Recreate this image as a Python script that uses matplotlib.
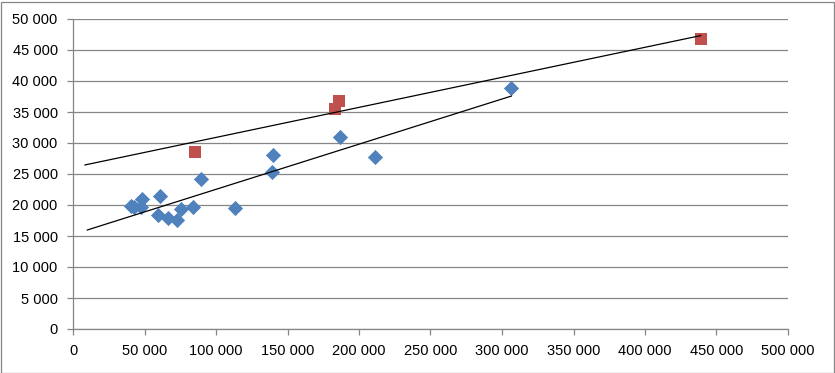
import matplotlib.pyplot as plt
import numpy as np
from matplotlib.ticker import FuncFormatter, MultipleLocator
from matplotlib.patches import Rectangle

# blue series (diamonds)
blue_x = [40300, 42700, 48000, 47700, 59200, 60900, 66700, 72900, 75800, 84100,
          89700, 113400, 139200, 139900, 186700, 211400, 306500]
blue_y = [19900, 19600, 20900, 19600, 18400, 21450, 17900, 17600, 19400, 19700,
          24200, 19500, 25400, 28100, 31000, 27700, 38800]

# red series (squares)
red_x = [85300, 183200, 185800, 439000]
red_y = [28600, 35500, 36700, 46700]

# trendlines start (backward forecast)
blue_trend_start = 10000
red_trend_start = 8400

plt.rcParams['font.family'] = ['Liberation Sans', 'DejaVu Sans']

fig = plt.figure(figsize=(8.35, 3.73), dpi=100)
ax = fig.add_axes([73 / 835, 44 / 373, 715 / 835, 310 / 373])

grid_col = '#868686'

# linear trendlines
for xs, ys, x0 in [(blue_x, blue_y, blue_trend_start), (red_x, red_y, red_trend_start)]:
    k, b = np.polyfit(xs, ys, 1)
    tx = np.array([x0, max(xs)])
    ax.plot(tx, k * tx + b, color='black', lw=0.9, zorder=4)

ax.scatter(blue_x, blue_y, marker='D', s=60, color='#4F81BD', linewidths=0, zorder=3)
ax.scatter(red_x, red_y, marker='s', s=72, color='#C0504D', linewidths=0, zorder=3)

ax.set_xlim(0, 500000)
ax.set_ylim(0, 50000)
ax.xaxis.set_major_locator(MultipleLocator(50000))
ax.yaxis.set_major_locator(MultipleLocator(5000))
fmt = FuncFormatter(lambda v, p: f"{int(v):,}".replace(",", " "))
ax.xaxis.set_major_formatter(fmt)
ax.yaxis.set_major_formatter(fmt)

ax.grid(axis='y', color=grid_col, lw=0.9)
ax.set_axisbelow(True)
for s in ['top', 'right']:
    ax.spines[s].set_visible(False)
for s in ['left', 'bottom']:
    ax.spines[s].set_color(grid_col)
    ax.spines[s].set_linewidth(0.9)
ax.tick_params(direction='out', length=4, width=0.9, color=grid_col,
               labelsize=10.5, labelcolor='black', pad=7)

# chart border
fig.patches.append(Rectangle((0.5 / 835, 0.5 / 373), 833 / 835, 371 / 373,
                             transform=fig.transFigure, fill=False,
                             edgecolor=grid_col, lw=0.9))

fig.savefig('out.png', dpi=100)
